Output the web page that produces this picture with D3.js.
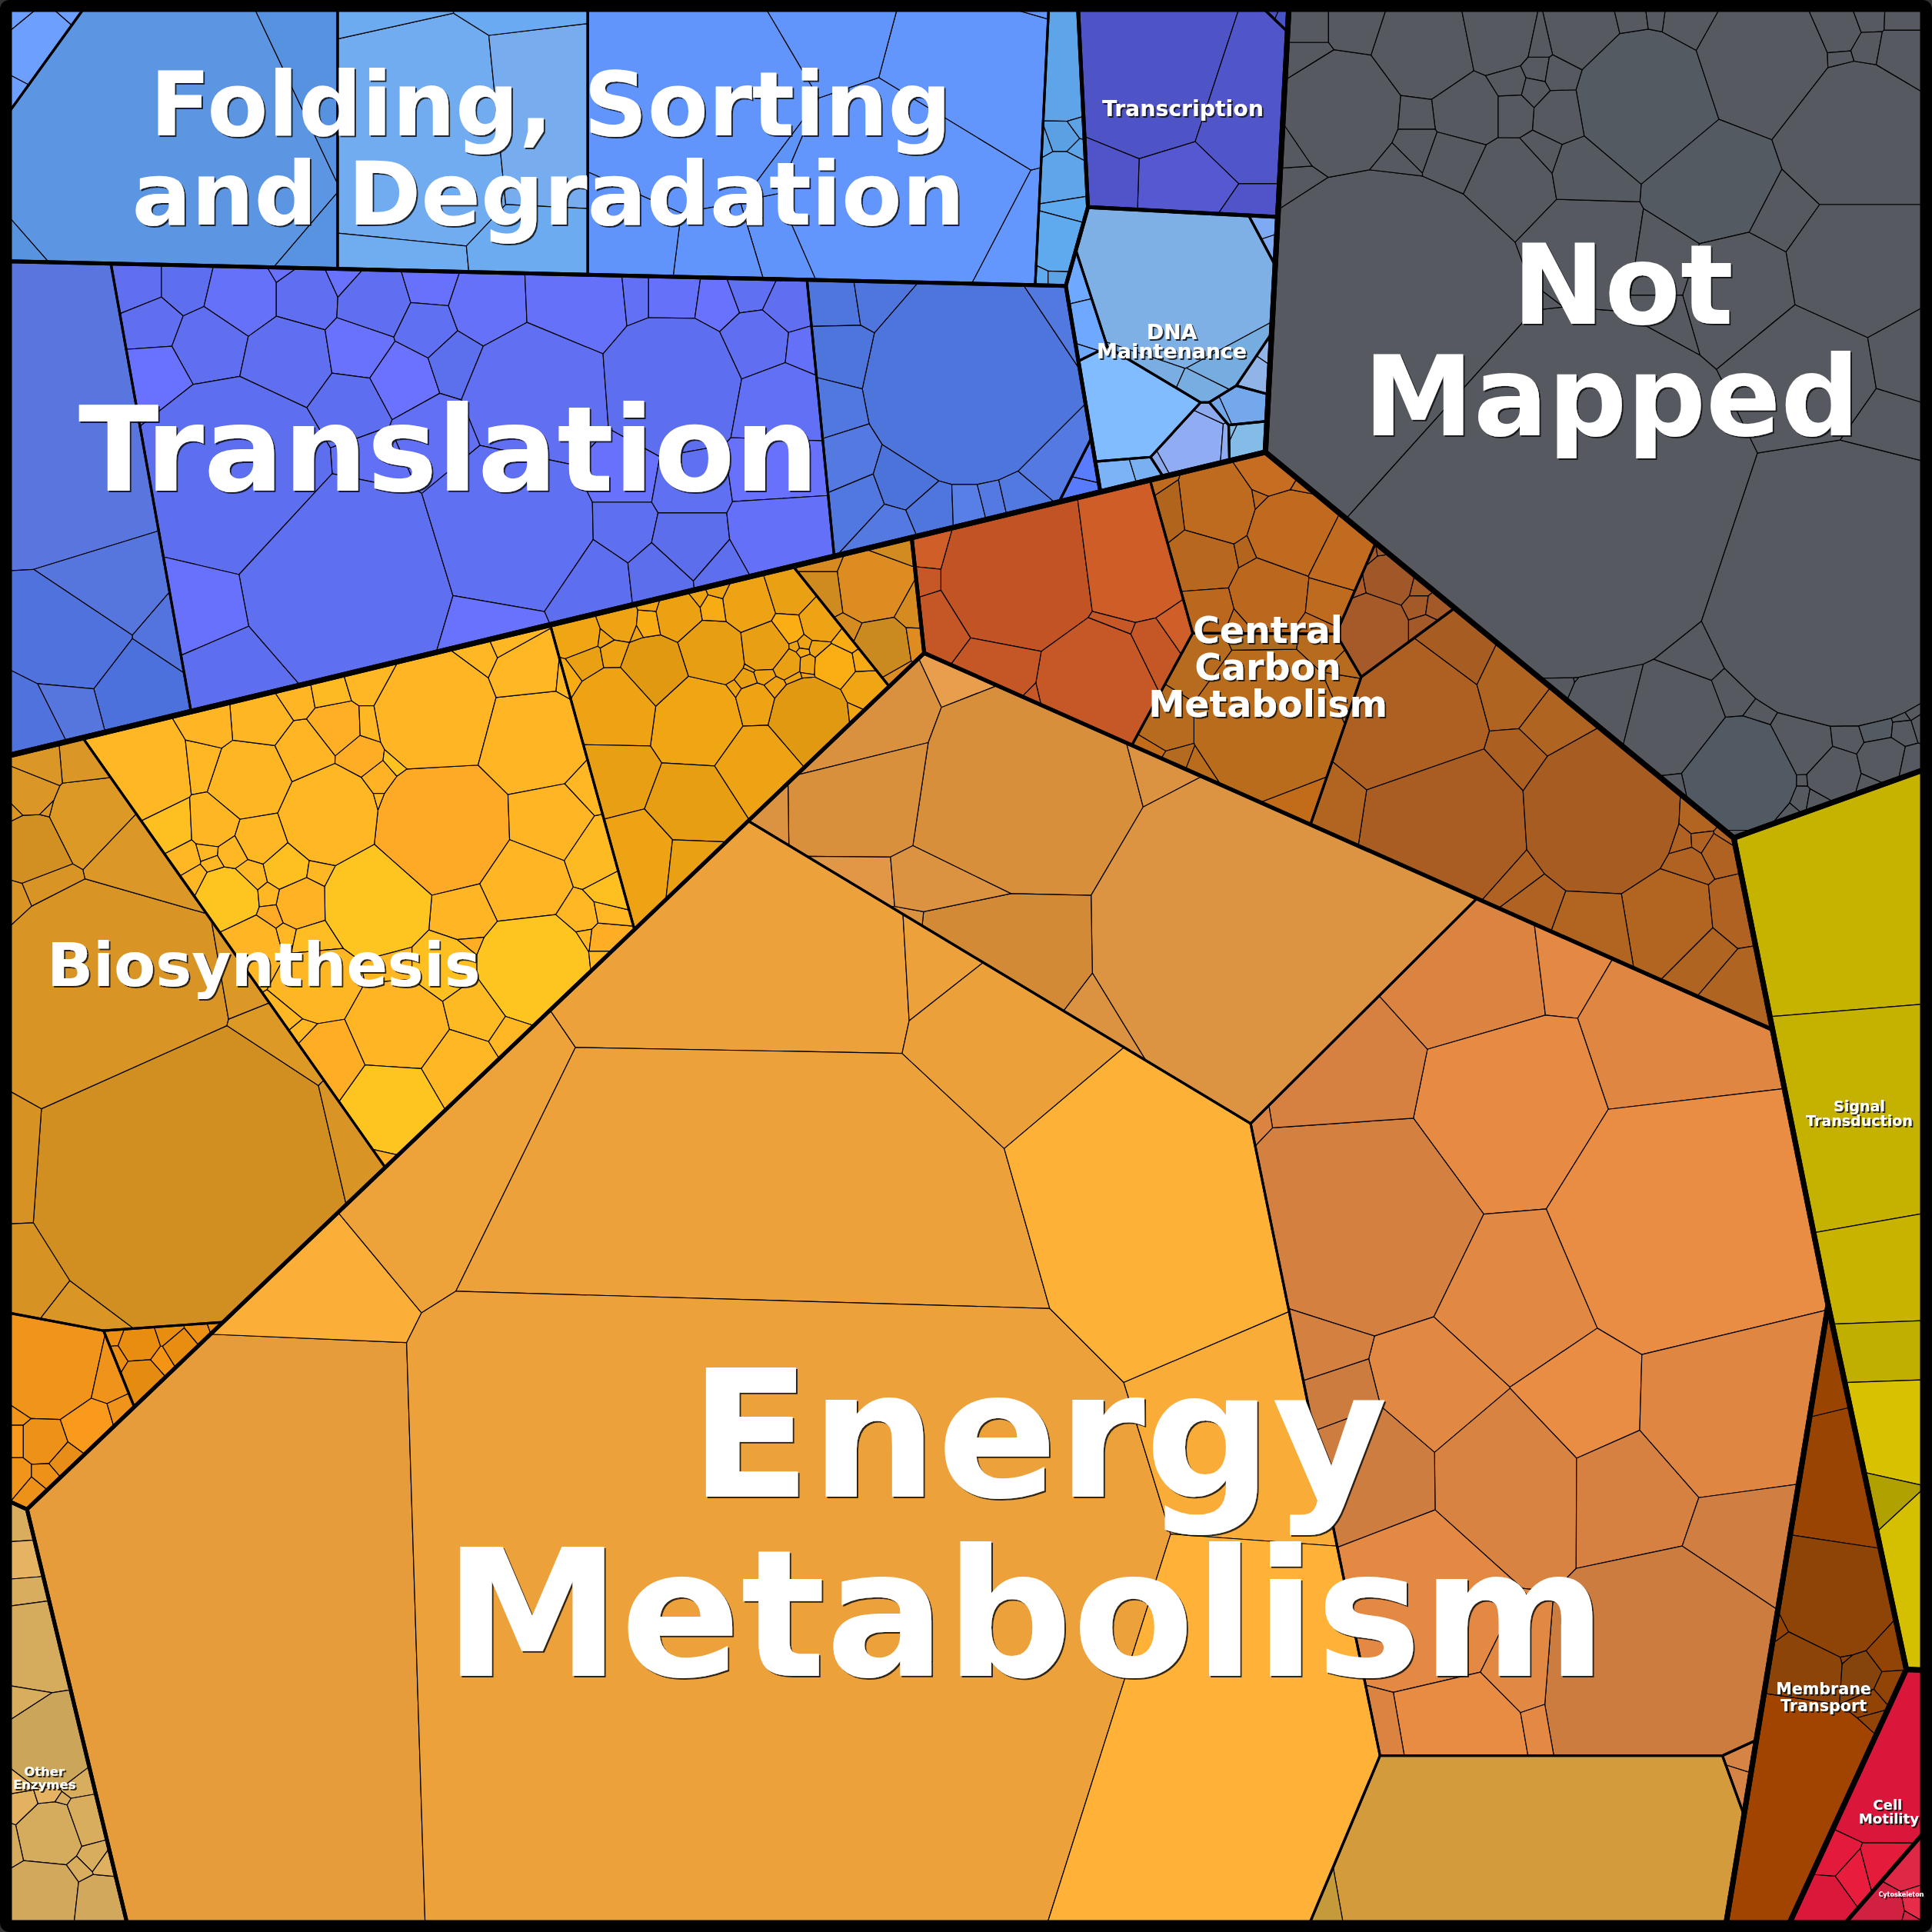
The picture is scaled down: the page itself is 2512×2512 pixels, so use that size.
<!DOCTYPE html>
<html lang="en">
<head>
<meta charset="UTF-8">
<title>Proteomap</title>
<script src="https://cdn.jsdelivr.net/npm/d3@7"></script>
<style>
body { margin: 0; background: #333; }
svg { display: block; }
</style>
</head>
<body>
<div id="chart"></div>
<script>
// sites, in 1568 units: [name, x, y, weight]
var topSites = [["gen",795.8,488.1,264.9],["nm",1361.8,518.0,370.1],["met",929.7,1042.7,684.2],["sig",1508.1,925.8,423.4],["mem",948.5,1045.8,669.0],["mot",1492.6,1296.5,3.2]];
var geneticSites = [["fold",433.4,126.4,441.9],["tra",428.1,353.9,451.2],["tsc",946.8,100.8,3.2],["dna",938.1,268.4,67.2]];
var metabolismSites = [["bio",349.9,735.3,576.9],["cen",981.9,666.9,450.6],["ene",760.5,1165.5,731.1],["oth",81.9,1329.5,3.2]];
var foldingSites = [["f1",43.4,52.9,3.2],["f2",124.0,111.1,106.2],["f3",384.8,111.1,32.7],["f4",679.4,111.1,183.1],["f5",842.9,119.1,76.4]];
var translationSites = [["t1",63.7,426.5,168.1],["t2",370.9,371.5,293.5],["t3",779.9,331.2,105.3],["t4",868.4,376.0,3.2]];
var transcriptionSites = [["ta",1030.2,18.5,3.2],["tb",967.5,83.8,95.4]];
var dnaSites = [["d0",1041.7,207.0,3.2],["d1",957.0,252.2,85.6],["d2",895.9,272.1,56.3],["d3",918.2,317.2,68.8],["d4",923.1,377.3,41.9],["d5",958.8,354.4,50.0],["d6",1002.3,353.4,32.2],["d7",998.9,320.1,39.5],["d8",1008.0,286.7,46.9]];
var biosynthesisSites = [["ba",110.4,834.5,242.4],["bb",314.9,690.5,266.7],["bc",582.5,616.5,225.0],["bd",698.4,523.7,171.4],["be",56.0,1123.4,21.6],["bf",129.0,1094.0,3.2]];
var centralSites = [["c1",896.1,500.7,81.4],["c2",1017.1,467.0,76.8],["c3",1016.5,566.0,79.8],["c4",1113.6,509.0,3.2],["c5",1202.8,630.1,120.1]];
var energySites = [["e1",665.0,1211.9,515.9],["e2",922.3,784.9,280.0],["e3",1231.7,1095.9,366.7],["e4",1231.7,1449.8,163.9],["e5",1370.5,1399.5,3.2]];
var motilitySites = [["m1",1515.4,1491.6,41.9],["m2",1544.7,1517.1,28.0]];

// leaf cells: [x, y, weight, shade]
var nm = [[1120,265,125,.5],[1270,400,150,.5],[1495,475,115,.5],[1088,90,47,.5],[1156,40,38,.5],[1216,28,28,.5],[1284,27,27,.5],[1336,81,56,.3],[1430,50,53,.5],[1506,109,58,.5],[1392,148,45,.2],[1506,219,54,.5],[1412,235,43,.5],[1284,205,44,.5],[1190,90,25,.5],[1227,150,33,.5],[1286,140,25,.4],[1180,128,20,.5],[1268,93,19,.5],[1251,128,13,.5],[1444,175,20,.5],[1468,303,54,.5],[1545,290,30,.5],[1528,345,26,.5],[1350,215,23,.5],[1350,253,10,.5],[1253,246,4,.5],[1228,90,10,.5],[1227,67,7,.5],[1249,57,7,.5],[1246,72,6,.5],[1267,60,12,.5],[1249,35,8,.5],[1062,21,14,.5],[1098,21,18,.5],[1062,48,14,.5],[1149,95,11,.5],[1149,117,13,.5],[1136,130,6,.5],[1046,150,16,.5],[1044,120,18,.5],[1489,24,18,.5],[1516,14,6,.5],[1517,40,9,.5],[1491,48,5,.5],[1544,45,20,.5],[1544,15,8,.5],[1326,17,5,.5],[1371,17,22,.5],[1349,14,8,.5],[1305,572,32,.5],[1357,585,42,.5],[1412,628,46,.05],[1376,533,14,.5],[1407,566,13,.5],[1427,581,7,.5],[1462,602,27,.5],[1497,598,15,.5],[1522,590,14,.3],[1488,626,22,.5],[1527,617,19,.5],[1463,628,4,.5],[1543,592,8,.5],[1552,576,5,.5],[1559,587,4,.5],[1519,635,10,.5],[1551,622,12,.5],[1463,649,6,.5],[1474,651,8,.5],[1452,662,5,.5],[1363,639,3,.5],[1412,674,4,.5],[1272,558,3,.5],[1285,555,3,.5],[1557,562,3,.5],[1542,583,5,.5]];
var f1 = [[35,40,28,.6],[12,12,4,.5],[14,80,5,.5],[62,9,2,.5]];
var f2 = [[128,110,125,.6],[280,38,72,.2],[318,272,87,.25],[-60,275,105,.3]];
var f3 = [[340,110,85,.7],[440,100,66,.9],[330,210,13,.6],[310,-25,35,.5],[425,-25,33,.4],[435,200,30,.5]];
var f4 = [[565,80,80,.6],[790,50,50,.8],[720,165,83,.7],[670,18,18,.6],[640,200,30,.5],[590,215,28,.6],[510,205,22,.5],[835,225,10,.9],[800,15,14,.7],[625,125,8,.4]];
var f5 = [[863,55,42,.5],[862,113,10,.2],[862,143,20,.6],[866,168,8,.9],[858,198,22,.9],[845,226,4,.9],[857,226,5,.3],[877,102,2,.3],[872,123,5,.5],[848,118,3,.5]];
var t1 = [[50,345,105,.8],[90,475,30,.7],[60,520,35,.3],[112,560,27,.1],[55,575,12,.7],[25,590,20,.3],[140,518,4,.5]];
var t2 = [[112,232,20,.3],[150,232,20,.2],[124,262,21,.3],[197,243,30,.7],[172,280,30,.3],[127,305,24,.95],[247,243,26,.35],[233,293,37,.3],[232,222,9,.8],[282,227,14,.9],[303,246,28,.3],[290,284,27,.9],[349,232,17,.8],[346,267,22,.4],[397,248,30,.75],[325,308,27,1],[370,293,21,.15],[467,245,40,.7],[436,320,57,.45],[517,240,12,.5],[546,240,21,.7],[581,245,16,.9],[608,235,15,.4],[545,312,55,.2],[614,280,26,.35],[640,250,17,.3],[650,284,14,.6],[632,328,33,.5],[284,330,30,.2],[351,355,30,.5],[301,377,28,.5],[190,385,78,.2],[282,470,85,.25],[413,430,68,.4],[505,385,25,.8],[560,395,26,.4],[630,385,33,.8],[505,428,23,.25],[560,440,28,.1],[633,432,38,.6],[475,472,33,.2],[537,465,22,.1],[583,460,18,.2],[400,505,35,.9],[165,492,31,.85],[190,550,35,.2]];
var t3 = [[785,310,82,.2],[682,247,15,.3],[708,243,14,.3],[683,288,22,.2],[672,332,22,.4],[685,373,22,.6],[697,402,15,.4],[735,388,22,.1],[757,413,17,.3],[724,427,10,.6],[785,412,13,.9],[805,407,9,.6],[827,402,13,.5],[850,375,20,.6],[860,260,12,.5]];
var t4 = [[878,372,14,.9],[872,398,6,.6]];
var ta = [[1045,16,8,.7],[1030,10,3,.2]];
var tb = [[935,62,64,.4],[1020,90,56.5,.6],[962,150,37,1],[900,148,22,.5],[1020,190,37,.5]];
var dna0 = [[1025,185,6,.5],[1030,200,5,.5]];
var dna1 = [[955,225,70,.8],[930,300,20,.5],[990,290,15,.2],[975,320,4,.3]];
var dna2 = [[875,222,15,.5],[885,265,14,.5],[877,290,3,.5]];
var dna3 = [[925,325,45,.5]];
var dna4 = [[905,385,15,.6],[928,378,10,.3]];
var dna5 = [[965,360,27,.6],[943,372,8,.1],[992,362,5,.5],[978,332,8,.3]];
var dna6 = [[1012,358,13,.5],[999,352,2,.5]];
var dna7 = [[1010,330,13,.5],[988,340,3,.5]];
var dna8 = [[1017,305,15,.5],[1027,290,3,.5]];
var ba = [[150,955,122,.1],[85,810,95,.5],[115,705,40,.75],[73,665,32,.8],[27,688,27,.25],[40,722,18,.5],[25,645,17,.7],[68,622,12,.7],[33,625,9,.7],[35,655,5,.7],[12,658,5,.6],[14,733,9,.5],[10,945,30,.4],[15,1040,28,.4],[60,1075,18,.6],[222,845,17,.8],[300,920,30,.5],[200,790,15,.75]];
var bb = [[360,671,55,0],[355,580,50,.4],[430,600,44,.4],[443,668,33,.4],[425,715,36,.4],[433,785,45,1],[483,695,24,.6],[376,738,25,.4],[306,732,43,1],[267,661,40,.5],[204,632,33,.45],[110,625,44,.5],[246,612,24,.4],[210,585,24,.45],[165,619,16,.5],[172,588,18,.4],[132,670,23,.8],[174,668,19,.45],[212,680,21,.5],[273,591,20,.2],[292,614,17,.1],[306,632,13,.3],[322,618,7,.9],[306,650,8,.5],[240,565,13,.4],[267,560,13,.6],[300,550,18,.5],[300,590,10,.5],[425,552,27,.5],[388,535,14,.5],[410,525,8,.5],[456,555,4,.5],[473,640,8,.5],[146,697,13,.5],[157,716,11,.5],[184,730,26,.95],[190,692,13,.5],[203,710,13,.5],[232,703,18,.8],[258,707,8,.5],[245,733,20,.3],[217,727,8,.5],[219,743,8,.05],[171,690,5,.5],[175,701,5,.5],[202,768,25,.4],[232,760,6,.5],[255,765,16,.7],[258,798,30,.45],[324,835,40,.4],[360,785,25,.8],[320,785,13,.5],[385,820,24,.6],[370,868,32,.5],[320,897,40,1],[268,860,28,.1],[415,840,13,.5],[378,762,7,.1],[235,826,5,.5],[245,838,6,.5],[312,933,10,.2],[469,743,14,.5],[472,760,7,.5],[488,762,8,.1],[490,739,4,.5],[488,779,3,.5],[495,718,16,.8]];
var bc = [[566,583,35,.6],[578,530,27,.3],[531,545,28,.1],[499,574,33,.5],[657,582,32,.1],[620,525,20,.35],[607,491,21,.5],[642,480,19,.4],[666,503,17,.5],[640,510,12,1],[677,541,16,1],[700,560,14,.6],[613,571,16,.5],[615,618,28,.5],[562,652,28,.3],[498,628,26,.35],[515,695,28,.5],[560,700,14,.4],[468,516,18,.6],[503,503,15,.5],[476,537,14,.4],[498,533,11,.5],[525,505,10,.9],[551,500,18,.45],[580,495,11,.9],[567,487,4,.5],[584,480,6,.5],[526,492,5,.5],[518,509,5,.5],[490,519,3,.5],[655,540,7,.5],[638,539,12,.4],[621,547,8,.5],[629,558,8,.5],[644,550,6,.5],[606,552,7,.4],[596,560,4,.5],[611,540,3,.5],[652,522,4,.5],[664,526,5,.5],[645,524,3,.5],[651,529,2,.8],[654,547,2.5,.5],[687,520,7,.9],[699,537,5,.8],[692,578,5,.6],[460,549,10,.9]];
var bd = [[707,475,28,.8],[670,480,16,.25],[716,526,22,0],[743,495,10,.5],[742,522,6,.9],[728,547,8,.8],[687,513,3,.5],[718,445,12,.3],[670,460,3,.5]];
var be = [[38,1110,42,.6],[84,1120,13,.5],[71,1158,20,.9],[36,1170,19,.4],[15,1170,9,.9],[98,1150,6,.5],[15,1145,6,.6],[15,1197,10,.6],[37,1197,11,.4],[55,1185,9,1],[28,1208,9,.4],[52,1184,14,.2]];
var bf = [[114,1090,14,.4],[116,1119,15,.2],[133,1104,8,.9],[135,1083,6,.4],[146,1096,12,.4],[164,1081,4,.5],[175,1077,3,.5],[90,1081,4,.5],[92,1104,4,.5]];
var c1 = [[826,467,62,.1],[918,455,45,.9],[888,553,46,.4],[812,540,30,.3],[765,505,22,.3],[755,447,15,1],[753,467,8,.4],[935,530,17,.3],[958,514,4,1],[902,517,3,.4],[837,565,3,.4]];
var c2 = [[988,413,30,.5],[947,418,16,.05],[1048,432,34,.55],[976,455,27,.3],[1030,482,30,.4],[979,495,21,.4],[1088,452,25,.6],[1078,487,16,.5],[1033,382,20,.8],[1055,395,5,.6],[1011,448,6,.1],[1023,407,4,.4],[931,394,3,.5],[1004,505,8,.4],[1068,509,5,.4]];
var c3 = [[1027,585,58,.5],[1026,522,8,.1],[972,545,20,.4],[947,585,22,.35],[935,605,5,.8],[956,618,7,.3],[969,623,4,.5],[1055,658,6,.8],[1087,558,10,.4],[1090,540,8,.4],[1079,529,8,.4]];
var c4 = [[1127,470,20,.3],[1113,510,28,.6],[1100,475,7,1],[1151,491,6,.5],[1165,493,6,.5],[1157,510,8,.5],[1151,476,6,.5],[1111,451,4,.5],[1124,449,3,.5]];
var c5 = [[1143,585,62,.4],[1172,668,65,.2],[1085,655,18,.7],[1178,538,25,.1],[1228,562,28,.6],[1300,660,62,.1],[1355,745,35,.7],[1295,755,25,.7],[1258,585,24,.6],[1232,612,18,.3],[1380,664,13,.7],[1365,682,6,.5],[1382,681,8,.5],[1398,680,5,.5],[1405,740,18,.5],[1415,800,18,.6],[1380,770,18,.6],[1393,688,10,.5],[1370,700,10,.5],[1225,715,10,.5],[1240,735,10,.5]];
var e1 = [[219.0,1291.2,215.6,.05],[227.7,1088.8,63.4,.85],[399.3,946.1,89.0,.3],[619.9,795.4,143.0,.25],[615.2,1052.0,238.4,.25],[608.6,1278.8,327.0,.25],[774.8,786.4,92.6,.25],[815.1,837.6,107.2,.2],[922.4,964.6,123.0,.95],[1004.6,1156.5,3.2,.75],[987.1,1398.7,119.1,1]];
var e2 = [[782.4,626.6,110.6,1],[756.2,638.8,115.7,.4],[792.5,652.4,126.8,.3],[889.6,627.0,3.2,.5],[951.7,746.2,81.7,.55],[860.4,802.0,37.1,.5],[790.4,748.8,107.0,.1],[758.3,647.3,118.7,.35],[758.0,685.7,108.8,.7],[765.6,746.2,100.0,.5],[777.0,684.1,116.5,.5],[635.0,649.0,7.0,.5]];
var e3 = [[1203.5,804.2,88.6,.5],[1245.3,799.1,74.7,.8],[1362.2,868.0,109.6,.6],[1234.4,911.1,113.5,.9],[1377.7,1000.3,151.6,1],[1120.0,995.0,116.8,.3],[1112.6,886.4,83.0,.35],[1021.3,901.1,3.2,.5],[1246.4,1056.5,115.3,.7],[1167.6,1141.9,108.0,.7],[1298.7,1133.9,116.1,1],[1410.6,1137.1,136.6,.6],[1222.4,1206.5,120.2,.45],[1331.0,1206.9,117.7,.35],[1424.4,1238.9,118.9,.15],[1358.5,1337.4,131.4,.05],[1080.1,1119.8,90.3,.3],[1093.6,1160.6,102.7,.05],[1111.2,1207.6,118.1,.1],[1144.1,1293.5,125.8,.8],[1162.3,1371.7,101.2,.95],[1122.0,1378.7,96.7,.5],[1208.8,1325.7,97.6,.7],[1220.9,1361.5,75.8,.8]];
var e4 = [[1240,1490,170,.8],[1043,1525,70,.2]];
var e5 = [[1416,1425,5,.5],[1408,1450,10,.5]];
var oth = [[18,1236,14,.5],[20,1266,15,.9],[22,1291,11,.5],[28,1336,35,.4],[20,1384,14,.5],[40,1415,36,.05],[40,1488,26,.4],[35,1540,30,.25],[80,1545,22,.25],[18,1465,13,.8],[8,1495,10,.4],[37,1459,8,.9],[62,1444,10,.5],[68,1478,17,.5],[76,1508,7,.5],[83,1513,5,.7],[66,1518,2,.5],[15,1448,10,1],[46,1465,2,.5]];
var sig = [[1492.5,732.7,88.5,.55],[1506.4,903.6,84.9,.5],[1529.7,1036.6,35.7,.6],[1531.4,1080.5,3.2,.4],[1534.4,1164.9,17.9,1],[1519.4,1231.9,19.1,0],[1549.4,1264.3,36.7,.9]];
var mem = [[1445,1480,105,1],[1505,1200,50,.75],[1482,1105,30,.8],[1490,1300,45,.4],[1463,1355,32,.3],[1509,1358,15,0],[1533,1340,14,.5],[1535,1370,11,.5],[1520,1383,8,.5],[1523,1394,5,.5],[1441,1325,8,.6],[1498,1345,3,.5]];
var m1 = [[1525,1420,70,.1],[1505,1530,12,1],[1524,1525,7,.8],[1480,1548,24,.2],[1483,1510,7,.7]];
var m2 = [[1525,1552,20,.1],[1546,1514,16,.7],[1556,1546,10,1],[1549,1558,6,.2]];

// shade range per group
var shadeLow = {nm:"#515a62",f1:"#6a9eff",f2:"#5490de",f3:"#60a8f4",f4:"#5a90f4",f5:"#5a9ee0",t1:"#4a70dc",t2:"#5a6eea",t3:"#4a72d8",t4:"#5478f8",ta:"#4a50c0",tb:"#4a50c0",d0:"#7eaaf4",d1:"#74ace0",d2:"#6ea8ff",d3:"#80bcff",d4:"#74acee",d5:"#88a8e8",d6:"#84bce8",d7:"#74a8ec",d8:"#90b4e8",ba:"#cf8c20",bb:"#ffaa26",bc:"#df9712",bd:"#cb8a20",be:"#e38915",bf:"#e0880f",c1:"#c05224",c2:"#b0641c",c3:"#ac6a22",c4:"#9c5628",c5:"#a55a22",e1:"#e69b3b",e2:"#cf8835",e3:"#cb7b40",e4:"#c09a3a",e5:"#d68446",oth:"#c9a45a",sig:"#b0a000",mem:"#84440c",m1:"#d8163a",m2:"#cf2040"};
var shadeHigh = {nm:"#5a595e",f1:"#6fa0ff",f2:"#619ae6",f3:"#7aaeee",f4:"#6598ff",f5:"#60aaf0",t1:"#5d78de",t2:"#6a72ff",t3:"#5a80e8",t4:"#5a7cff",ta:"#4455c8",tb:"#5558d0",d0:"#7eaaf4",d1:"#80b0e6",d2:"#6ea8ff",d3:"#80bcff",d4:"#80b8fc",d5:"#95aff8",d6:"#84bce8",d7:"#74a8ec",d8:"#90b4e8",ba:"#e09c28",bb:"#fec520",bc:"#fbae14",bd:"#e08c20",be:"#fb9c1e",bf:"#f79514",c1:"#d05e28",c2:"#cc6f22",c3:"#c86d18",c4:"#ac5c2a",c5:"#b86a20",e1:"#ffb237",e2:"#e89e4d",e3:"#ea8d44",e4:"#d99b3c",e5:"#d68446",oth:"#e8b562",sig:"#d8c200",mem:"#a04400",m1:"#e81c3c",m2:"#e62c48"};

var labelLines = ["Folding, Sorting","and Degradation","Translation","Not","Mapped","Energy","Metabolism","Biosynthesis","Central","Carbon","Metabolism","Transcription","DNA","Maintenance","Signal","Transduction","Membrane","Transport","Cell","Motility","Cytoskeleton","Other","Enzymes"];
var labelX = [447,445,364,1317,1308,843,832,214,1029,1029,1029,960,951,951,1509,1509,1480,1480,1532,1533,1543,36,36];
var labelY = [110,182,398,263,353,1215,1360,800,522,552,582,94,275,291,902,914,1375,1389,1469,1480,1539,1441,1452];
var labelSize = [72,71.5,95.6,89.6,89.6,144,144,49.2,29.6,29.6,29.6,17.7,16.8,16.8,11.9,11.9,12.9,12.9,11.3,11.3,5,10.3,10.3];

var W = 2512;
var edge = [7.5, 1560.5];
var xScale = d3.scaleLinear().domain([0,1568]).range([0,W]);
var yScale = d3.scaleLinear().domain([0,1568]).range([0,W]);

var svg = d3.select("#chart").append("svg").attr("width",W).attr("height",W);

var children = {root:topSites,gen:geneticSites,met:metabolismSites,fold:foldingSites,tra:translationSites,tsc:transcriptionSites,dna:dnaSites,bio:biosynthesisSites,cen:centralSites,ene:energySites,mot:motilitySites};
var leaves = {nm:nm,f1:f1,f2:f2,f3:f3,f4:f4,f5:f5,t1:t1,t2:t2,t3:t3,t4:t4,ta:ta,tb:tb,d0:dna0,d1:dna1,d2:dna2,d3:dna3,d4:dna4,d5:dna5,d6:dna6,d7:dna7,d8:dna8,ba:ba,bb:bb,bc:bc,bd:bd,be:be,bf:bf,c1:c1,c2:c2,c3:c3,c4:c4,c5:c5,e1:e1,e2:e2,e3:e3,e4:e4,e5:e5,oth:oth,sig:sig,mem:mem,m1:m1,m2:m2};

// power distance difference, cell of s is where it's <= 0
function cutCell(poly, s, others) {
	var out = poly;
	others.forEach(function(t) {
		function f(p) {
			return (p[0]-s.x)*(p[0]-s.x)+(p[1]-s.y)*(p[1]-s.y)-s.r*s.r-((p[0]-t.x)*(p[0]-t.x)+(p[1]-t.y)*(p[1]-t.y)-t.r*t.r);
		}
		var next = [];
		out.forEach(function(a, i) {
			var b = out[(i+1)%out.length], fa = f(a), fb = f(b);
			if (fa <= 0) next.push(a);
			if ((fa < 0 && fb > 0) || (fa > 0 && fb < 0)) {
				var k = fa/(fa-fb);
				next.push([a[0]+k*(b[0]-a[0]), a[1]+k*(b[1]-a[1])]);
			}
		});
		out = next;
	});
	return out;
}

function splitPoly(poly, sites) {
	return sites.map(function(s) {
		return cutCell(poly, s, sites.filter(function(t) { return t !== s; }));
	});
}

var outline = d3.line().x(function(p) { return xScale(p[0]); }).y(function(p) { return yScale(p[1]); }).curve(d3.curveLinearClosed);

var cells = [], borders = [];

function build(name, poly, level) {
	var sites;
	if (children[name]) {
		sites = children[name].map(function(s) { return {name:s[0],x:s[1],y:s[2],r:s[3]}; });
		splitPoly(poly, sites).forEach(function(p, i) {
			if (p.length < 3) return;
			build(sites[i].name, p, level+1);
			borders.push({poly:p, level:level+1});
		});
	} else {
		var shade = d3.scaleLinear().domain([0,1]).range([shadeLow[name], shadeHigh[name]]);
		sites = leaves[name].map(function(s) { return {x:s[0],y:s[1],r:s[2],tone:s[3]}; });
		splitPoly(poly, sites).forEach(function(p, i) {
			if (p.length >= 3) cells.push({poly:p, fill:shade(sites[i].tone)});
		});
	}
}

build("root", [[edge[0],edge[0]],[edge[1],edge[0]],[edge[1],edge[1]],[edge[0],edge[1]]], 0);

svg.append("g").selectAll("path").data(cells).enter().append("path")
	.attr("d", function(d) { return outline(d.poly); })
	.attr("fill", function(d) { return d.fill; })
	.attr("stroke", "#000")
	.attr("stroke-width", 1.2)
	.attr("stroke-linejoin", "round");

var borderWidth = {1:7, 2:5, 3:3.2};
borders.sort(function(a, b) { return b.level-a.level; });
svg.append("g").selectAll("path").data(borders).enter().append("path")
	.attr("d", function(d) { return outline(d.poly); })
	.attr("fill", "none")
	.attr("stroke", "#000")
	.attr("stroke-width", function(d) { return borderWidth[d.level]; })
	.attr("stroke-linejoin", "round");

svg.append("rect")
	.attr("x", 6).attr("y", 6).attr("width", W-12).attr("height", W-12).attr("rx", 6)
	.attr("fill", "none").attr("stroke", "#000").attr("stroke-width", 12);

// hard dark edge on the lower right of the labels
var shadow = svg.append("defs").append("filter").attr("id", "edge")
	.attr("x", "-5%").attr("y", "-5%").attr("width", "110%").attr("height", "110%");
shadow.append("feDropShadow").attr("dx", 2).attr("dy", 2).attr("stdDeviation", 0.4)
	.attr("flood-color", "#111").attr("flood-opacity", 0.85);

svg.append("g").attr("filter", "url(#edge)").selectAll("text").data(labelLines).enter().append("text")
	.attr("x", function(d, i) { return xScale(labelX[i]); })
	.attr("y", function(d, i) { return yScale(labelY[i]); })
	.attr("text-anchor", "middle")
	.attr("font-family", "DejaVu Sans")
	.attr("font-weight", "bold")
	.attr("font-size", function(d, i) { return xScale(labelSize[i]); })
	.attr("fill", "#fff")
	.text(function(d) { return d; });
</script>
</body>
</html>
